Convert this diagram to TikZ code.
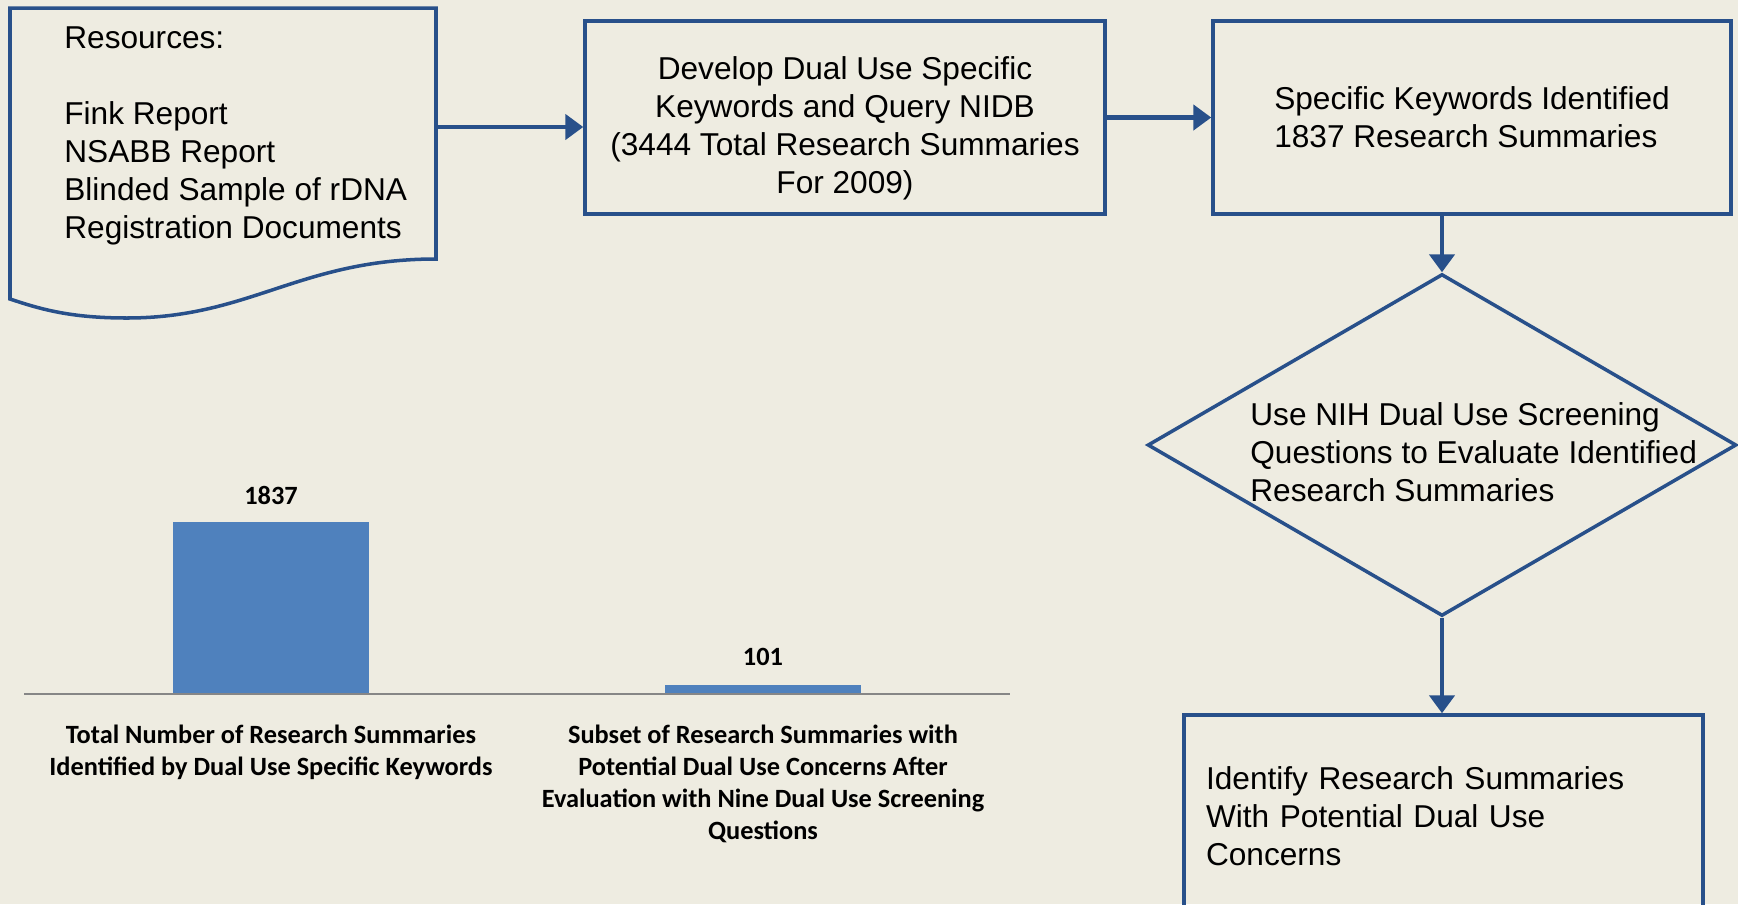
\documentclass[tikz,border=0pt]{standalone}
\usepackage{fontspec}
\setmainfont{Liberation Sans}
\newfontfamily\chartfont{Carlito}
\usepackage{xcolor}
\usetikzlibrary{positioning, calc, arrows.meta, shapes.geometric}
\definecolor{bgtan}{HTML}{EEECE1}
\definecolor{flowblue}{HTML}{28508A}
\definecolor{barblue}{HTML}{4F81BD}
\definecolor{axisgray}{HTML}{868686}
\tikzset{
  flowtxt/.style={font=\fontsize{18}{21.6}\selectfont, inner sep=0pt},
  stepbox/.style={flowtxt, draw=flowblue, line width=2pt},
  decision/.style={draw=flowblue, line width=2pt, shape=diamond, inner sep=0pt},
  flow/.style={draw=flowblue, line width=2.8pt, -{Triangle[width=0.5cm,length=0.36cm]}},
  valtxt/.style={font=\chartfont\bfseries\fontsize{15}{18.2}\selectfont, inner sep=0pt},
  cattxt/.style={valtxt, align=center},
}

\begin{document}
\begin{tikzpicture}[x=0.02cm,y=-0.02cm]
      \useasboundingbox (0,0) rectangle (1738,904);
      \clip (0,0) rectangle (1738,904);
      \fill[bgtan] (0,0) rectangle (1738,904);
      % resources (document shape)
      \draw[flowblue, line width=2pt] (10,8) -- (436,8) -- (436,259)
        .. controls (300,259) and (250,318) .. (127,318)
        .. controls (70,318) and (40,309) .. (10,299) -- cycle;
      \coordinate (resR) at (436,127);
      \node[flowtxt, align=left, anchor=west] (res) at (64,136) {Resources:\\[21.6pt]Fink Report\\NSABB Report\\Blinded Sample of rDNA\\Registration Documents};
      % flow chart
      \node[stepbox, minimum width=10.4cm, minimum height=3.86cm] (dev) at (845,117.5) {};
      \node[flowtxt, align=center] (devtxt) at (845,128) {Develop Dual Use Specific\\Keywords and Query NIDB\\(3444 Total Research Summaries\\For 2009)};
      \node[stepbox, align=left, minimum width=10.36cm, minimum height=3.86cm] (kw) at (1472,117.5) {Specific Keywords Identified\\1837 Research Summaries};
      \node[decision, minimum width=11.78cm, minimum height=6.84cm] (screen) at (1442,445) {};
      \node[flowtxt, align=left, anchor=west] (screentxt) at (1250,452) {Use NIH Dual Use Screening\\Questions to Evaluate Identified\\Research Summaries};
      \node[stepbox, align=left, text width=9.5cm, inner xsep=0.44cm, minimum height=4.04cm] (concern) at (1443.5,816) {Identify Research Summaries\\With Potential Dual Use\\Concerns};
      \draw[flow] (resR) -- (resR -| dev.west);
      \draw[flow] (dev.east) -- (kw.west);
      \draw[flow] (screen.north |- kw.south) -- (screen.north);
      \draw[flow] (screen.south) -- (screen.south |- concern.north);
      % bar chart
      \fill[barblue] (173,522) rectangle (369,694);
      \fill[barblue] (665,685) rectangle (861,694);
      \draw[axisgray, line width=1.2pt] (24,694) -- (1010,694);%axis
      \node[valtxt] (v1) at (271,495) {1837};
      \node[valtxt] (v2) at (763,657) {101};
      \node[cattxt] (c1) at (271,752) {Total Number of Research Summaries\\Identified by Dual Use Specific Keywords};
      \node[cattxt] (c2) at (763,784) {Subset of Research Summaries with\\Potential Dual Use Concerns After\\Evaluation with Nine Dual Use Screening\\Questions};
    \end{tikzpicture}
\end{document}
